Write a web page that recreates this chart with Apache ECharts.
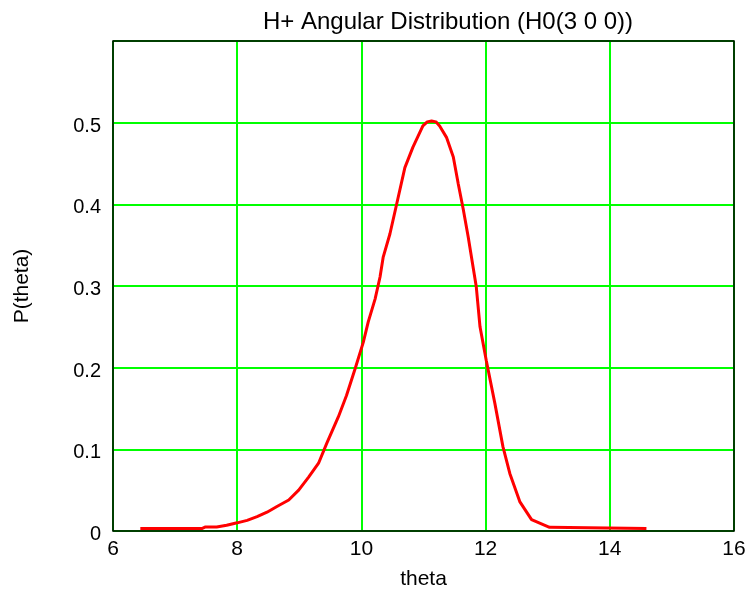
<!DOCTYPE html>
<html>
<head>
<meta charset="utf-8">
<script src="https://cdn.jsdelivr.net/npm/echarts@6/dist/echarts.min.js"></script>
<style>html,body{margin:0;padding:0;background:#fff;}#c{width:751px;height:591px;}</style>
</head>
<body>
<div id="c"></div>
<script>
var titleText = 'H+ Angular Distribution (H0(3 0 0))';
var xName = 'theta';
var yName = 'P(theta)';
var thetaValues = [6.44, 7.43, 7.49, 7.67, 7.83, 8.0, 8.16, 8.32, 8.48, 8.64, 8.83, 8.99, 9.15, 9.31, 9.44, 9.63, 9.76, 9.90, 10.03, 10.11, 10.22, 10.30, 10.35, 10.46, 10.57, 10.70, 10.83, 10.99, 11.06, 11.13, 11.20, 11.26, 11.37, 11.48, 11.56, 11.64, 11.72, 11.85, 11.91, 12.01, 12.15, 12.28, 12.39, 12.55, 12.74, 13.03, 14.59];
var pValues = [0.003, 0.003, 0.005, 0.005, 0.007, 0.010, 0.013, 0.0175, 0.023, 0.030, 0.038, 0.050, 0.066, 0.083, 0.107, 0.140, 0.166, 0.199, 0.231, 0.256, 0.284, 0.311, 0.335, 0.364, 0.401, 0.445, 0.470, 0.496, 0.501, 0.502, 0.501, 0.496, 0.482, 0.458, 0.425, 0.394, 0.360, 0.299, 0.250, 0.209, 0.156, 0.103, 0.0705, 0.036, 0.014, 0.0045, 0.003];
var xTicks = [6, 8, 10, 12, 14, 16];
var yTicks = [0, 0.1, 0.2, 0.3, 0.4, 0.5, 0.6];

var data = thetaValues.map(function (t, i) { return [t, pValues[i]]; });
var chart = echarts.init(document.getElementById('c'), null, {renderer: 'canvas'});
var font = 'Liberation Sans, Arial, sans-serif';
chart.setOption({
  animation: false,
  backgroundColor: '#fff',
  title: {
    text: titleText,
    left: 443, top: 5, textAlign: 'center',
    textStyle: {fontFamily: font, fontSize: 24, fontWeight: 'normal', color: '#000'}
  },
  grid: {left: 113, right: 17, top: 41, bottom: 60, outerBoundsMode: 'none', containLabel: false,
    show: true, borderColor: '#000', borderWidth: 1.5, z: 10},
  xAxis: {
    type: 'value', min: xTicks[0], max: xTicks[xTicks.length - 1], interval: 2,
    name: xName, nameLocation: 'middle', nameGap: 38,
    nameTextStyle: {fontFamily: font, fontSize: 21, color: '#000'},
    axisLine: {show: false}, axisTick: {show: false},
    axisLabel: {fontFamily: font, fontSize: 21, color: '#000', margin: 8},
    splitLine: {show: true, lineStyle: {color: '#00ff00', width: 2}}
  },
  yAxis: {
    type: 'value', min: yTicks[0], max: yTicks[yTicks.length - 1], interval: 0.1,
    name: yName, nameLocation: 'middle', nameGap: 80, nameRotate: 90,
    nameTextStyle: {fontFamily: font, fontSize: 21, color: '#000'},
    axisLine: {show: false}, axisTick: {show: false},
    axisLabel: {fontFamily: font, fontSize: 20, color: '#000', margin: 12,
      formatter: function (v) { return Math.abs(v - 0.6) < 1e-9 ? '' : '{a|' + (Math.round(v * 10) / 10) + '}'; },
      rich: {a: {fontFamily: font, fontSize: 20, color: '#000', padding: [7, 0, 0, 0]}}},
    splitLine: {show: true, lineStyle: {color: '#00ff00', width: 2}}
  },
  series: [{
    type: 'line', data: data, symbol: 'none', smooth: false,
    lineStyle: {color: '#ff0000', width: 3}, z: 5
  }]
});
</script>
</body>
</html>
